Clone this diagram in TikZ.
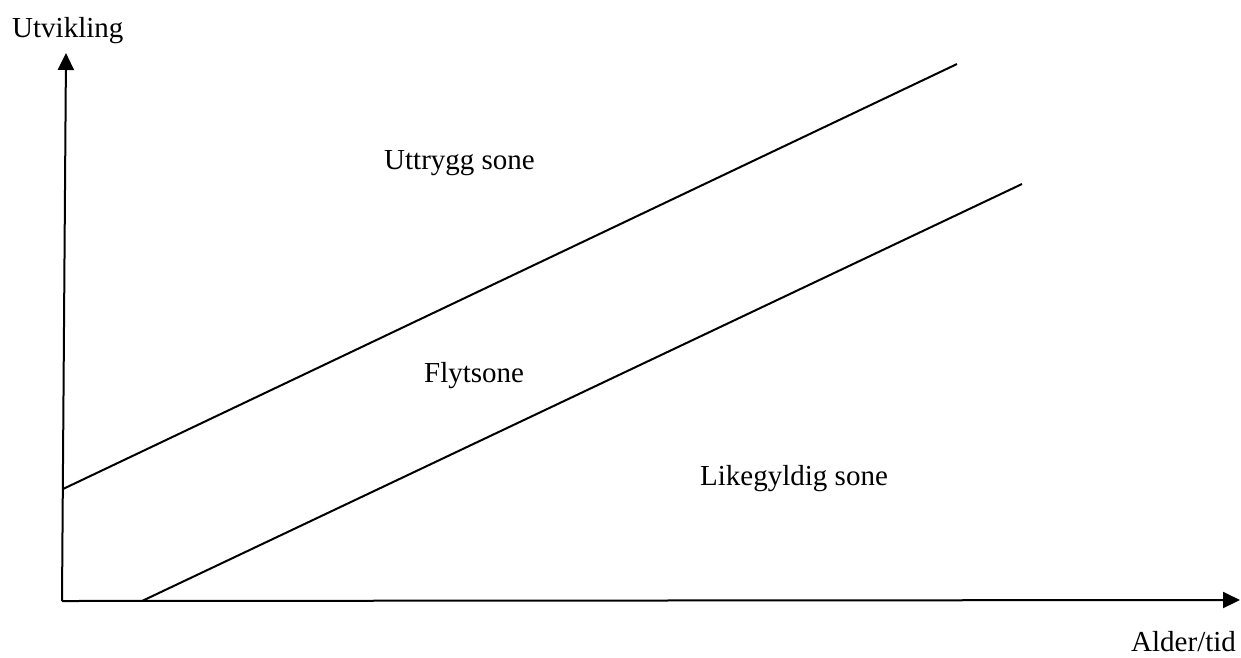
\documentclass[tikz,border=0pt]{standalone}
\usepackage{fontspec}
\setmainfont{Liberation Serif}
\usetikzlibrary{arrows.meta}
\begin{document}
\begin{tikzpicture}[x=1pt,y=-1pt,
  axis/.style={line width=2pt,-{Triangle[length=17pt,width=16pt]}},
  zoneline/.style={line width=2pt},
  lbl/.style={anchor=base west,inner sep=0pt,font=\fontsize{29}{34}\selectfont}]
\useasboundingbox (0,0) rectangle (1241,657);
\coordinate (O) at (62,601);
\coordinate (ytip) at (66,53);
\coordinate (xtip) at (1240,600);
\coordinate (u1) at (63,489);
\coordinate (u2) at (957,64);
\coordinate (l1) at (142,601);
\coordinate (l2) at (1022,184);
\draw[axis] (O) -- (ytip);
\draw[axis] (O) -- (xtip);
\draw[zoneline] (u1) -- (u2);
\draw[zoneline] (l1) -- (l2);
\node[lbl] (ylab) at (12,37) {Utvikling};
\node[lbl] (xlab) at (1131,651) {Alder/tid};
\node[lbl] (z1) at (384,169) {Uttrygg sone};
\node[lbl] (z2) at (424,382) {Flytsone};
\node[lbl] (z3) at (700,485) {Likegyldig sone};
\end{tikzpicture}
\end{document}
